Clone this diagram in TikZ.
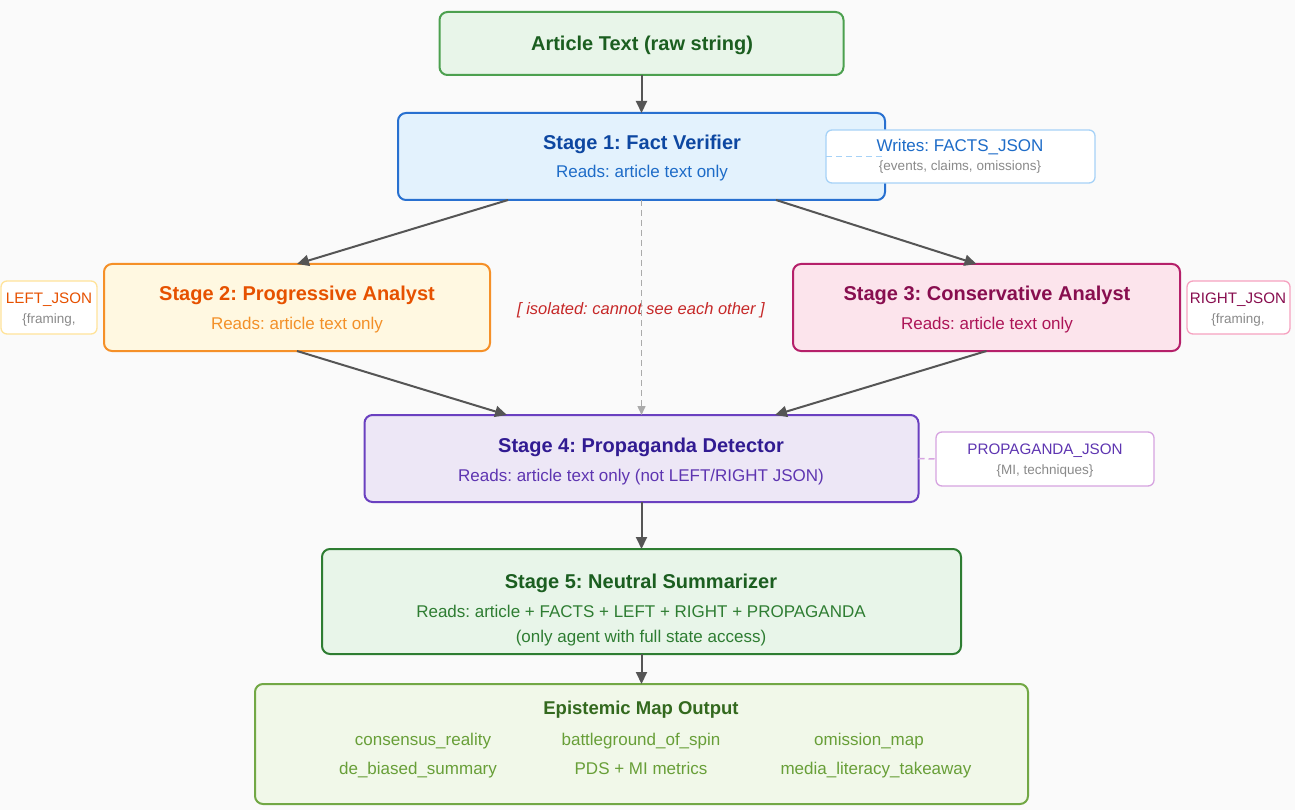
\documentclass[tikz,border=0pt]{standalone}
\usepackage{fontspec}
\setmainfont{Liberation Sans}
\usetikzlibrary{arrows.meta,calc}
\frenchspacing
\definecolor{bg}{HTML}{FAFAFA}
\definecolor{artfill}{HTML}{E8F5E9}\definecolor{artdraw}{HTML}{4CA04F}\definecolor{arttext}{HTML}{1B5E20}
\definecolor{bluefill}{HTML}{E3F2FD}\definecolor{bluedraw}{HTML}{2870D0}\definecolor{bluetitle}{HTML}{0D47A1}\definecolor{bluesub}{HTML}{1E6CC8}\definecolor{bluelight}{HTML}{A6D2F7}
\definecolor{orfill}{HTML}{FFF8E1}\definecolor{ordraw}{HTML}{F59028}\definecolor{ortitle}{HTML}{E65100}\definecolor{orsub}{HTML}{F39028}\definecolor{orlight}{HTML}{FFE39A}
\definecolor{pkfill}{HTML}{FCE4EC}\definecolor{pkdraw}{HTML}{B5206A}\definecolor{pktitle}{HTML}{880E4F}\definecolor{pksub}{HTML}{AD1457}\definecolor{pklight}{HTML}{F6A2C0}
\definecolor{pufill}{HTML}{EDE7F6}\definecolor{pudraw}{HTML}{6A40C0}\definecolor{putitle}{HTML}{311B92}\definecolor{pusub}{HTML}{5E35B1}\definecolor{pulight}{HTML}{D6A3E0}
\definecolor{s5fill}{HTML}{E8F5E9}\definecolor{s5draw}{HTML}{2E7D32}\definecolor{s5title}{HTML}{1B5E20}\definecolor{s5sub}{HTML}{2E7D32}
\definecolor{outfill}{HTML}{F1F8E9}\definecolor{outdraw}{HTML}{72A845}\definecolor{outtitle}{HTML}{33691E}\definecolor{outsub}{HTML}{689F38}
\definecolor{arrowc}{HTML}{555555}\definecolor{isoc}{HTML}{C62828}\definecolor{greyt}{HTML}{8A8A8A}\definecolor{dashc}{HTML}{AAAAAA}
\begin{document}
\begin{tikzpicture}[x=1pt,y=-1pt,
  box/.style={rectangle,rounded corners=8pt,line width=2pt,inner sep=0pt,outer sep=0pt},
  sidebox/.style={rectangle,rounded corners=6pt,line width=1.3pt,fill=white,inner sep=0pt,outer sep=0pt},
  ttl/.style={font=\fontsize{20}{24}\selectfont\bfseries,inner sep=0pt,anchor=base},
  sub/.style={font=\fontsize{17}{20}\selectfont,inner sep=0pt,anchor=base},
  side/.style={font=\fontsize{15.2}{18}\selectfont,inner sep=0pt,anchor=base},
  sml/.style={font=\fontsize{13.5}{16}\selectfont,inner sep=0pt,text=greyt,anchor=base},
  flow/.style={draw=arrowc,line width=2pt,-{Triangle[length=12pt,width=11pt]}},
]
\useasboundingbox[fill=bg] (0,0) rectangle (1295,810);
% boxes
\node[box,fill=artfill,draw=artdraw,minimum width=404pt,minimum height=63pt] (art) at (641.5,43.5) {};
\node[box,fill=bluefill,draw=bluedraw,minimum width=487pt,minimum height=87pt] (s1) at (641.5,156.5) {};
\node[sidebox,draw=bluelight,minimum width=269pt,minimum height=53pt] (wr) at (960.5,156.5) {};
\node[box,fill=orfill,draw=ordraw,minimum width=386pt,minimum height=87pt] (s2) at (297,307.5) {};
\node[sidebox,draw=orlight,minimum width=96pt,minimum height=53pt] (lj) at (49,307.5) {};
\node[box,fill=pkfill,draw=pkdraw,minimum width=387pt,minimum height=87pt] (s3) at (986.5,307.5) {};
\node[sidebox,draw=pklight,minimum width=103pt,minimum height=53pt] (rj) at (1238.5,307.5) {};
\node[box,fill=pufill,draw=pudraw,minimum width=554pt,minimum height=87pt] (s4) at (641.5,458.5) {};
\node[sidebox,draw=pulight,minimum width=218pt,minimum height=54pt] (pj) at (1045,459) {};
\node[box,fill=s5fill,draw=s5draw,minimum width=639pt,minimum height=105pt] (s5) at (641.5,601.5) {};
\node[box,fill=outfill,draw=outdraw,minimum width=773pt,minimum height=120pt] (out) at (641.5,744) {};
% texts (anchored at baseline)
\node[ttl,text=arttext] (artt) at (642,50.5) {Article Text (raw string)};
\node[ttl,text=bluetitle] (s1t) at (642,149.5) {Stage 1: Fact Verifier};
\node[sub,text=bluesub] (s1s) at (642,178) {Reads: article text only};
\node[sub,text=bluesub] (wrt) at (960,152) {Writes: FACTS\_JSON};
\node[sml] (wrs) at (960,171) {\{events, claims, omissions\}};
\node[ttl,text=ortitle] (s2t) at (297,300.5) {Stage 2: Progressive Analyst};
\node[sub,text=orsub] (s2s) at (297,329) {Reads: article text only};
\node[side,text=ortitle] (ljt) at (49,303) {LEFT\_JSON};
\node[sml] (ljs) at (49,323) {\{framing,};
\node[ttl,text=pktitle] (s3t) at (987,300.5) {Stage 3: Conservative Analyst};
\node[sub,text=pksub] (s3s) at (987,329) {Reads: article text only};
\node[side,text=pktitle] (rjt) at (1238,303.5) {RIGHT\_JSON};
\node[sml] (rjs) at (1238,323) {\{framing,};
\node[sub,text=isoc,font=\fontsize{16.5}{20}\selectfont\itshape] (iso) at (641,314) {[ isolated: cannot see each other ]};
\node[ttl,text=putitle] (s4t) at (641,452.5) {Stage 4: Propaganda Detector};
\node[sub,text=pusub] (s4s) at (641,481) {Reads: article text only (not LEFT/RIGHT JSON)};
\node[side,text=pusub] (pjt) at (1045,454.5) {PROPAGANDA\_JSON};
\node[sml] (pjs) at (1045,474) {\{MI, techniques\}};
\node[ttl,text=s5title] (s5t) at (641,588.5) {Stage 5: Neutral Summarizer};
\node[sub,text=s5sub] (s5a) at (641,617) {Reads: article + FACTS + LEFT + RIGHT + PROPAGANDA};
\node[sub,text=s5sub] (s5b) at (641,642) {(only agent with full state access)};
\node[ttl,text=outtitle,font=\fontsize{18.5}{22}\selectfont\bfseries] (ot) at (641,714.5) {Epistemic Map Output};
\node[sub,text=outsub] (o1) at (423,745) {consensus\_reality};
\node[sub,text=outsub] (o2) at (641,745) {battleground\_of\_spin};
\node[sub,text=outsub] (o3) at (869,745) {omission\_map};
\node[sub,text=outsub] (o4) at (418,774) {de\_biased\_summary};
\node[sub,text=outsub] (o5) at (641,774) {PDS + MI metrics};
\node[sub,text=outsub] (o6) at (876,774) {media\_literacy\_takeaway};
% connectors
\draw[flow] (art.south) -- (s1.north);
\draw[flow] ($(s1.south)+(-133.5,0)$) -- (s2.north);
\draw[flow] ($(s1.south)+(134.5,0)$) -- ($(s3.north)+(-10,0)$);
\draw[flow] (s2.south) -- ($(s4.north)+(-134.5,0)$);
\draw[flow] (s3.south) -- ($(s4.north)+(133.5,0)$);
\draw[flow] (s4.south) -- (s5.north);
\draw[flow] (s5.south) -- (out.north);
\draw[draw=dashc,line width=1.5pt,dash pattern=on 6pt off 4pt,-{Triangle[length=9pt,width=8pt]}] (s1.south) -- (s4.north);
\draw[draw=bluelight,line width=1.5pt,dash pattern=on 6pt off 4pt] (wr.west) -- (s1.east);
\draw[draw=pulight,line width=1.5pt,dash pattern=on 6pt off 4pt] (s4.east) -- (pj.west);
\end{tikzpicture}
\end{document}
